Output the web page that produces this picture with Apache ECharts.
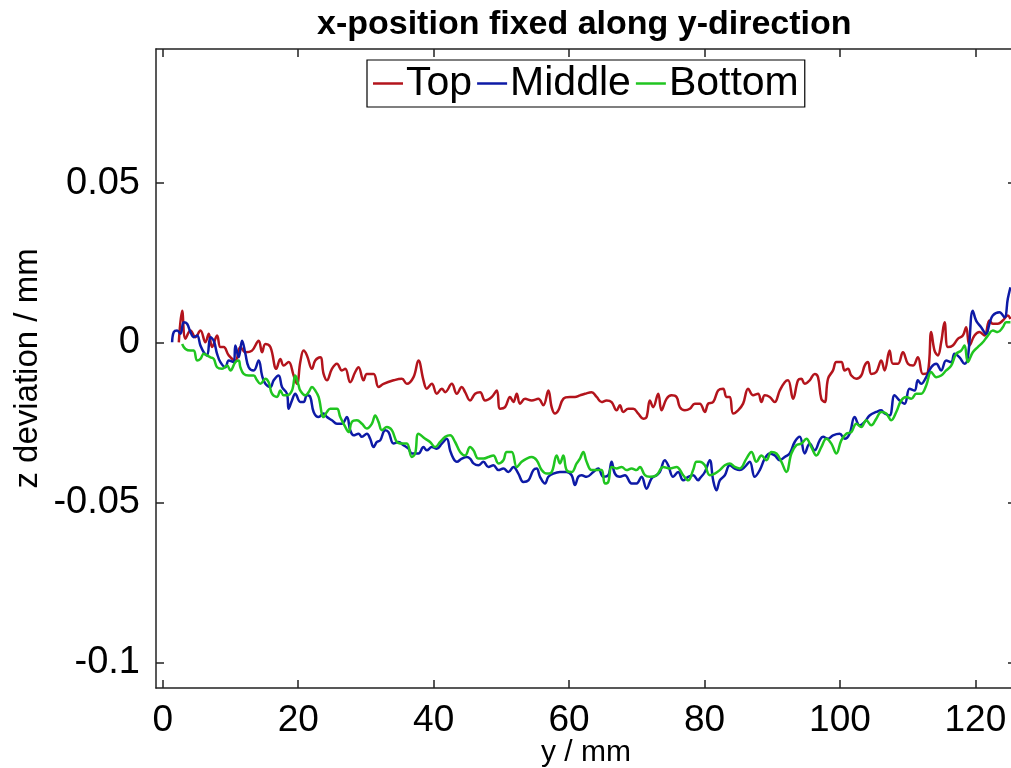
<!DOCTYPE html>
<html>
<head>
<meta charset="utf-8">
<script src="https://cdn.jsdelivr.net/npm/echarts@6/dist/echarts.min.js"></script>
<style>
  html, body { margin: 0; padding: 0; background: #fff; }
  #chart { width: 1011px; height: 768px; }
</style>
</head>
<body>
<div id="chart"></div>
<script>
// y / mm  ->  z deviation / mm
const topCurve = [
  [2.37,0.0002],[2.86,0.0101],[3.35,0.0013],[4.09,0.0039],[4.82,0.0018],[5.56,0.0039],[6.30,0.0002],[6.79,0.0029],
  [7.28,-0.0013],[8.02,0.0023],[8.51,-0.0013],[9.00,-0.0013],[9.74,-0.0039],[10.72,-0.0055],[11.46,-0.0013],[12.20,-0.0029],
  [13.18,-0.0024],[14.16,0.0007],[14.66,-0.0029],[15.15,-0.0003],[15.89,-0.0013],[16.77,-0.0081],[17.36,-0.0050],[17.85,-0.0071],
  [18.59,-0.0060],[19.33,-0.0102],[19.82,-0.0128],[20.31,-0.0060],[20.80,-0.0024],[21.29,-0.0039],[22.03,-0.0081],[22.52,-0.0055],
  [23.26,-0.0045],[23.75,-0.0097],[24.24,-0.0117],[24.98,-0.0081],[25.72,-0.0065],[26.46,-0.0086],[26.95,-0.0081],[27.68,-0.0123],
  [28.42,-0.0091],[28.91,-0.0076],[29.65,-0.0117],[30.14,-0.0097],[31.13,-0.0097],[31.86,-0.0138],[32.60,-0.0128],[34.08,-0.0117],
  [35.31,-0.0112],[36.04,-0.0128],[37.03,-0.0107],[37.76,-0.0055],[38.50,-0.0117],[38.99,-0.0143],[39.73,-0.0128],[40.47,-0.0159],
  [41.21,-0.0143],[41.70,-0.0154],[42.68,-0.0128],[43.42,-0.0159],[44.16,-0.0138],[44.65,-0.0154],[45.38,-0.0180],[46.12,-0.0159],
  [46.86,-0.0154],[47.60,-0.0180],[48.58,-0.0169],[49.32,-0.0149],[49.81,-0.0206],[50.55,-0.0201],[51.28,-0.0169],[51.78,-0.0185],
  [52.27,-0.0159],[52.76,-0.0190],[53.50,-0.0175],[54.48,-0.0180],[55.46,-0.0175],[56.20,-0.0195],[56.94,-0.0149],[57.43,-0.0201],
  [57.92,-0.0221],[58.41,-0.0211],[59.15,-0.0175],[60.13,-0.0169],[60.87,-0.0169],[61.61,-0.0164],[62.35,-0.0159],[63.33,-0.0154],
  [64.07,-0.0169],[64.80,-0.0185],[65.54,-0.0180],[66.28,-0.0185],[67.02,-0.0211],[67.51,-0.0195],[68.00,-0.0216],[68.74,-0.0206],
  [69.48,-0.0206],[70.21,-0.0221],[70.95,-0.0237],[71.44,-0.0232],[71.93,-0.0180],[72.42,-0.0201],[73.16,-0.0159],[73.65,-0.0211],
  [74.39,-0.0175],[75.13,-0.0164],[75.87,-0.0169],[76.36,-0.0201],[77.10,-0.0211],[77.83,-0.0206],[78.57,-0.0190],[79.31,-0.0190],
  [80.05,-0.0216],[80.54,-0.0190],[81.28,-0.0185],[82.01,-0.0149],[82.75,-0.0143],[83.24,-0.0169],[83.73,-0.0169],[84.23,-0.0221],
  [84.96,-0.0211],[85.70,-0.0190],[86.44,-0.0143],[87.18,-0.0164],[87.91,-0.0159],[88.41,-0.0185],[88.90,-0.0164],[89.63,-0.0169],
  [90.37,-0.0185],[91.11,-0.0149],[91.85,-0.0123],[92.34,-0.0117],[93.08,-0.0175],[93.81,-0.0117],[94.30,-0.0112],[94.80,-0.0128],
  [95.53,-0.0117],[96.27,-0.0097],[96.76,-0.0107],[97.25,-0.0175],[97.75,-0.0185],[98.24,-0.0112],[98.98,-0.0086],[99.47,-0.0060],
  [100.20,-0.0060],[100.70,-0.0086],[101.19,-0.0081],[101.68,-0.0102],[102.42,-0.0112],[103.15,-0.0102],[103.65,-0.0071],[104.14,-0.0060],
  [104.63,-0.0097],[105.37,-0.0091],[106.10,-0.0055],[106.60,-0.0086],[107.33,-0.0024],[107.83,-0.0065],[108.56,-0.0065],[109.30,-0.0029],
  [110.04,-0.0065],[110.78,-0.0071],[111.51,-0.0045],[112.25,-0.0097],[112.99,-0.0091],[113.48,0.0034],[113.97,-0.0024],[114.46,-0.0039],
  [114.95,0.0002],[115.45,0.0065],[115.94,-0.0013],[116.67,-0.0008],[117.41,0.0013],[118.15,0.0023],[118.64,0.0049],[119.13,-0.0008],
  [119.87,0.0023],[120.61,0.0034],[121.35,0.0023],[122.08,0.0070],[122.57,0.0060],[123.31,0.0060],[124.05,0.0070],[124.79,0.0086],
  [125.18,0.0075]
];

const middleCurve = [
  [1.38,0.0002],[1.63,0.0034],[2.12,0.0039],[2.61,0.0029],[3.10,0.0065],[3.59,0.0060],[4.09,0.0034],[4.58,0.0018],
  [5.07,0.0023],[5.56,-0.0008],[6.05,-0.0029],[6.54,-0.0039],[7.04,0.0018],[7.53,0.0007],[8.02,-0.0034],[8.51,-0.0060],
  [9.25,-0.0076],[9.74,-0.0055],[10.48,-0.0060],[10.72,-0.0008],[11.21,-0.0045],[11.71,0.0007],[12.20,-0.0034],[12.69,-0.0076],
  [13.43,-0.0086],[14.16,-0.0055],[14.66,-0.0102],[15.15,-0.0128],[15.89,-0.0138],[16.38,-0.0117],[17.11,-0.0102],[17.61,-0.0138],
  [18.34,-0.0159],[18.59,-0.0206],[19.08,-0.0180],[19.57,-0.0159],[20.31,-0.0185],[20.80,-0.0185],[21.29,-0.0164],[21.78,-0.0169],
  [22.28,-0.0216],[23.01,-0.0232],[23.75,-0.0221],[24.24,-0.0232],[24.98,-0.0242],[25.72,-0.0253],[26.46,-0.0253],[27.19,-0.0232],
  [27.68,-0.0273],[28.18,-0.0289],[28.91,-0.0284],[29.41,-0.0294],[30.14,-0.0284],[30.63,-0.0300],[31.13,-0.0326],[31.62,-0.0310],
  [32.11,-0.0305],[32.85,-0.0273],[33.34,-0.0279],[34.08,-0.0315],[34.81,-0.0310],[35.55,-0.0320],[36.29,-0.0331],[36.78,-0.0346],
  [37.76,-0.0346],[38.50,-0.0326],[38.99,-0.0336],[39.73,-0.0326],[40.47,-0.0331],[41.21,-0.0315],[41.94,-0.0300],[42.43,-0.0336],
  [42.93,-0.0362],[43.42,-0.0372],[44.16,-0.0362],[44.89,-0.0357],[45.38,-0.0362],[45.88,-0.0377],[46.61,-0.0383],[47.35,-0.0372],
  [48.09,-0.0388],[48.83,-0.0383],[49.56,-0.0398],[50.30,-0.0393],[51.04,-0.0404],[51.78,-0.0388],[52.51,-0.0409],[53.25,-0.0435],
  [53.99,-0.0430],[54.73,-0.0398],[55.22,-0.0393],[55.71,-0.0419],[56.45,-0.0440],[56.94,-0.0419],[57.68,-0.0409],[58.66,-0.0404],
  [59.64,-0.0404],[60.38,-0.0414],[60.87,-0.0445],[61.36,-0.0419],[61.85,-0.0414],[62.59,-0.0419],[63.58,-0.0404],[64.31,-0.0393],
  [65.05,-0.0419],[65.79,-0.0414],[66.28,-0.0372],[66.77,-0.0409],[67.51,-0.0419],[68.25,-0.0414],[69.23,-0.0440],[69.97,-0.0440],
  [70.70,-0.0419],[71.44,-0.0456],[72.18,-0.0424],[72.92,-0.0414],[73.41,-0.0404],[74.14,-0.0367],[74.64,-0.0383],[75.37,-0.0419],
  [76.11,-0.0404],[76.85,-0.0430],[77.59,-0.0419],[78.32,-0.0414],[79.06,-0.0430],[79.31,-0.0424],[80.05,-0.0404],[80.78,-0.0367],
  [81.28,-0.0430],[81.77,-0.0461],[82.26,-0.0430],[83.00,-0.0414],[83.73,-0.0383],[84.47,-0.0393],[85.21,-0.0398],[85.95,-0.0388],
  [86.68,-0.0372],[87.42,-0.0419],[88.16,-0.0398],[88.90,-0.0362],[89.63,-0.0346],[90.37,-0.0352],[91.11,-0.0367],[91.85,-0.0357],
  [92.58,-0.0346],[93.32,-0.0310],[94.06,-0.0294],[94.80,-0.0346],[95.53,-0.0315],[96.27,-0.0336],[97.01,-0.0305],[97.50,-0.0294],
  [98.24,-0.0300],[98.98,-0.0289],[99.96,-0.0284],[100.70,-0.0300],[101.43,-0.0284],[102.17,-0.0232],[102.91,-0.0258],[103.65,-0.0247],
  [104.38,-0.0227],[105.37,-0.0216],[106.10,-0.0211],[106.60,-0.0221],[107.33,-0.0227],[108.07,-0.0164],[108.81,-0.0180],[109.55,-0.0190],
  [110.28,-0.0143],[111.02,-0.0149],[111.51,-0.0117],[112.00,-0.0128],[112.74,-0.0107],[113.48,-0.0076],[114.22,-0.0065],[114.95,-0.0086],
  [115.69,-0.0055],[116.43,-0.0060],[116.92,-0.0034],[117.66,-0.0045],[118.40,-0.0065],[118.89,-0.0045],[119.62,0.0101],[120.11,0.0070],
  [120.85,0.0049],[121.59,0.0028],[122.08,0.0060],[122.57,0.0086],[123.56,0.0096],[124.30,0.0080],[124.79,0.0138],[125.18,0.0174]
];

const bottomCurve = [
  [2.86,-0.0003],[3.35,-0.0019],[4.09,-0.0024],[4.58,-0.0024],[5.07,-0.0055],[5.56,-0.0050],[6.05,-0.0034],[6.54,-0.0039],
  [7.04,-0.0045],[7.53,-0.0050],[8.02,-0.0076],[8.76,-0.0081],[9.49,-0.0071],[9.99,-0.0086],[10.72,-0.0060],[11.21,-0.0055],
  [11.46,-0.0076],[11.95,-0.0097],[12.69,-0.0102],[13.43,-0.0102],[13.92,-0.0117],[14.41,-0.0128],[15.15,-0.0112],[15.64,-0.0123],
  [16.13,-0.0159],[16.87,-0.0169],[17.36,-0.0149],[17.85,-0.0164],[18.34,-0.0164],[19.08,-0.0149],[19.57,-0.0102],[20.06,-0.0133],
  [20.31,-0.0149],[21.05,-0.0164],[21.54,-0.0154],[22.03,-0.0138],[22.52,-0.0149],[23.01,-0.0169],[23.75,-0.0232],[24.24,-0.0216],
  [24.73,-0.0206],[25.72,-0.0206],[26.21,-0.0232],[26.95,-0.0263],[27.44,-0.0279],[27.93,-0.0247],[28.67,-0.0242],[29.41,-0.0253],
  [30.14,-0.0268],[30.88,-0.0253],[31.37,-0.0227],[31.86,-0.0247],[32.36,-0.0273],[33.09,-0.0263],[33.83,-0.0273],[34.57,-0.0310],
  [35.31,-0.0315],[36.04,-0.0315],[36.78,-0.0357],[37.27,-0.0346],[37.76,-0.0284],[38.75,-0.0300],[39.48,-0.0310],[40.22,-0.0326],
  [40.96,-0.0310],[41.70,-0.0294],[42.43,-0.0289],[43.17,-0.0310],[43.91,-0.0341],[44.65,-0.0352],[45.38,-0.0326],[45.88,-0.0336],
  [46.61,-0.0362],[47.35,-0.0362],[48.09,-0.0357],[48.83,-0.0352],[49.56,-0.0377],[50.30,-0.0367],[50.79,-0.0341],[51.53,-0.0341],
  [52.27,-0.0388],[53.00,-0.0372],[53.74,-0.0362],[54.48,-0.0357],[55.22,-0.0367],[55.95,-0.0398],[56.69,-0.0409],[57.43,-0.0404],
  [58.17,-0.0352],[58.66,-0.0377],[59.15,-0.0352],[59.64,-0.0398],[60.38,-0.0404],[61.12,-0.0377],[61.61,-0.0362],[62.10,-0.0341],
  [62.59,-0.0372],[63.33,-0.0398],[64.07,-0.0398],[64.80,-0.0398],[65.30,-0.0440],[65.79,-0.0435],[66.28,-0.0388],[67.02,-0.0393],
  [67.76,-0.0388],[68.49,-0.0398],[69.23,-0.0393],[69.97,-0.0398],[70.46,-0.0388],[71.20,-0.0414],[71.93,-0.0419],[72.92,-0.0414],
  [73.90,-0.0388],[74.88,-0.0393],[75.87,-0.0388],[76.85,-0.0414],[77.59,-0.0430],[78.32,-0.0398],[78.82,-0.0372],[79.31,-0.0372],
  [80.05,-0.0383],[80.78,-0.0414],[81.52,-0.0409],[82.26,-0.0398],[83.00,-0.0383],[83.73,-0.0377],[84.47,-0.0388],[85.21,-0.0393],
  [86.19,-0.0362],[86.93,-0.0341],[87.67,-0.0372],[88.41,-0.0352],[89.14,-0.0367],[89.88,-0.0341],[90.62,-0.0346],[91.36,-0.0372],
  [92.09,-0.0404],[92.83,-0.0346],[93.57,-0.0320],[94.30,-0.0315],[95.04,-0.0300],[95.78,-0.0326],[96.52,-0.0352],[97.25,-0.0326],
  [97.99,-0.0300],[98.73,-0.0315],[99.47,-0.0346],[100.20,-0.0305],[100.94,-0.0284],[101.68,-0.0279],[102.42,-0.0253],[103.15,-0.0263],
  [103.89,-0.0242],[104.63,-0.0258],[105.37,-0.0237],[106.10,-0.0216],[106.84,-0.0221],[107.58,-0.0242],[108.32,-0.0216],[109.05,-0.0180],
  [109.79,-0.0169],[110.53,-0.0175],[111.27,-0.0159],[112.00,-0.0159],[112.74,-0.0133],[113.48,-0.0091],[114.22,-0.0107],[114.95,-0.0102],
  [115.69,-0.0086],[116.43,-0.0071],[117.17,-0.0034],[117.90,-0.0024],[118.40,-0.0008],[118.89,-0.0060],[119.62,-0.0029],[120.36,-0.0013],
  [121.10,0.0002],[121.84,0.0023],[122.57,0.0039],[123.31,0.0034],[124.05,0.0049],[124.54,0.0065],[125.18,0.0065]
];

const seriesNames = ['Top', 'Middle', 'Bottom'];
const seriesColors = ['#b3141c', '#0d1aa6', '#20c520'];
const xTicks = [0, 20, 40, 60, 80, 100, 120];
const yTicks = [-0.1, -0.05, 0, 0.05];

const FONT = '"Liberation Sans", Arial, Helvetica, sans-serif';

const chart = echarts.init(document.getElementById('chart'), null, { renderer: 'canvas' });

const tickStyle = { show: true, inside: true, length: 8, lineStyle: { color: '#222', width: 1.5 } };
// box style axes, never pulled onto the zero line
const boxLine = { show: true, onZero: false, lineStyle: { color: '#222', width: 1.5 } };

const option = {
  animation: false,
  backgroundColor: '#fff',
  color: seriesColors,
  title: {
    text: 'x-position fixed along y-direction',
    left: 312,
    top: 3,
    textStyle: { fontFamily: FONT, fontSize: 34, fontWeight: 'bold', color: '#000' }
  },
  legend: {
    data: seriesNames,
    left: 367,
    top: 60,
    icon: 'rect',
    itemWidth: 30,
    itemHeight: 2.5,
    itemGap: 5,
    padding: [3, 6],
    borderColor: '#000',
    borderWidth: 1.2,
    backgroundColor: '#fff',
    textStyle: { fontFamily: FONT, fontSize: 41, color: '#000', padding: [0, 0, 0, -2] }
  },
  grid: { left: 156, top: 49, right: -5, bottom: 80, outerBoundsMode: 'none' },
  xAxis: [
    {
      type: 'value',
      min: -1,
      max: 126,
      name: 'y / mm',
      nameLocation: 'middle',
      nameGap: 50,
      nameMoveOverlap: false,
      nameTextStyle: { fontFamily: FONT, fontSize: 30, color: '#000', verticalAlign: 'top' },
      axisLine: boxLine,
      axisTick: Object.assign({ customValues: xTicks }, tickStyle),
      axisLabel: { customValues: xTicks, fontFamily: FONT, fontSize: 37, color: '#000', margin: 14 },
      splitLine: { show: false }
    },
    {
      type: 'value',
      position: 'top',
      min: -1,
      max: 126,
      axisLine: boxLine,
      axisTick: Object.assign({ customValues: xTicks }, tickStyle),
      axisLabel: { show: false },
      splitLine: { show: false }
    }
  ],
  yAxis: [
    {
      type: 'value',
      min: -0.108,
      max: 0.092,
      name: 'z deviation / mm',
      nameLocation: 'middle',
      nameRotate: 90,
      nameGap: 112,
      nameMoveOverlap: false,
      nameTextStyle: { fontFamily: FONT, fontSize: 33, color: '#000' },
      axisLine: boxLine,
      axisTick: Object.assign({ customValues: yTicks }, tickStyle),
      axisLabel: { customValues: yTicks, fontFamily: FONT, fontSize: 38, color: '#000', margin: 16 },
      splitLine: { show: false }
    },
    {
      type: 'value',
      position: 'right',
      min: -0.108,
      max: 0.092,
      axisLine: boxLine,
      axisTick: Object.assign({ customValues: yTicks }, tickStyle),
      axisLabel: { show: false },
      splitLine: { show: false }
    }
  ],
  series: [topCurve, middleCurve, bottomCurve].map((curve, i) => ({
    name: seriesNames[i],
    type: 'line',
    data: curve,
    showSymbol: false,
    smooth: 0.4,
    lineStyle: { width: 2.5, color: seriesColors[i] },
    itemStyle: { color: seriesColors[i] }
  }))
};

chart.setOption(option);
</script>
</body>
</html>
